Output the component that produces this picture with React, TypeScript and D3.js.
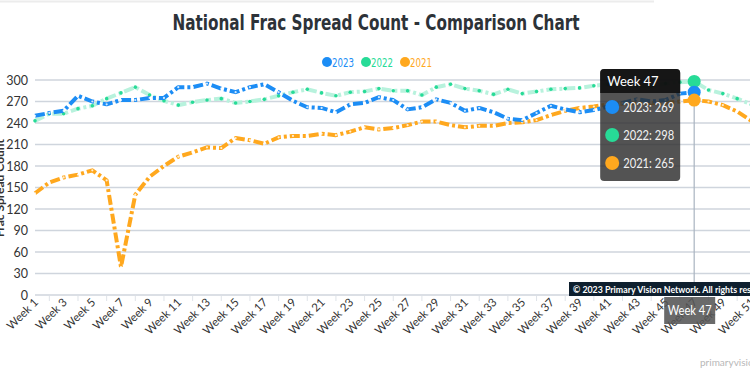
import React from "react";
import * as d3 from "d3";

const weeks: string[] = Array.from({ length: 52 }, (_, i) => `Week ${i + 1}`);

const series2023: number[] = [250, 254, 257, 278, 270, 266, 272, 272, 275, 275, 290, 290, 295, 288, 283, 290, 294, 283, 271, 262, 261, 255, 266, 268, 276, 272, 259, 262, 273, 268, 257, 261, 255, 246, 244, 254, 264, 259, 255, 258, 263, 268, 273, 270, 272, 281, 283];
const series2022: number[] = [243, 253, 253, 260, 264, 274, 282, 290, 279, 271, 265, 269, 272, 274, 268, 270, 273, 278, 283, 287, 282, 278, 283, 284, 288, 285, 285, 279, 290, 294, 288, 285, 280, 287, 281, 284, 287, 288, 289, 292, 294, 293, 292, 291, 295, 297, 298, 286, 281, 274, 266, 262];
const series2021: number[] = [142, 157, 164, 168, 174, 160, 39, 140, 165, 180, 193, 199, 206, 205, 219, 216, 211, 220, 222, 222, 225, 223, 228, 234, 231, 233, 237, 242, 242, 237, 234, 236, 236, 240, 241, 244, 251, 257, 261, 263, 266, 267, 268, 268, 268, 270, 272, 270, 265, 256, 243, 232];

const seriesNames: string[] = ["2023", "2022", "2021"];
const seriesColors: string[] = ["#1C8DF5", "#27DB97", "#FFA81E"];
const yTicks: number[] = [0, 30, 60, 90, 120, 150, 180, 210, 240, 270, 300];
const hoverWeek = "Week 47";
const tooltipValues: number[] = [269, 298, 265];

const condensed = "'Liberation Sans Narrow', 'DejaVu Sans Condensed', 'Roboto', sans-serif";
const body = "Lato, 'Open Sans', sans-serif";

export default function App() {
  const W = 750, H = 375;
  const x = d3.scalePoint<string>().domain(weeks).range([35, 35 + 51 * 14.33]);
  const y = d3.scaleLinear().domain([0, 300]).range([295, 80]);
  const line = d3
    .line<number>()
    .x((_, i) => x(weeks[i]) as number)
    .y((d) => y(d))
    .curve(d3.curveLinear);

  const all = [series2023, series2022, series2021];
  const hx = x(hoverWeek) as number;
  const hi = weeks.indexOf(hoverWeek);

  const tipRight = hx - 14;
  const tipW = 80;
  const tipL = tipRight - tipW;
  const tipT = y(300) - 11;
  const headH = 24;
  const rowH = 28;
  const tipH = headH + rowH * 3 + 4;

  return (
    <svg width={W} height={H} style={{ position: "absolute", left: 0, top: 0, background: "#fff" }}>
      <line x1={0} x2={654} y1={1.5} y2={1.5} stroke="#ececec" strokeWidth={2} />
      <text x={376} y={30} textAnchor="middle" fontFamily={condensed} fontWeight="bold" fontSize={21} fill="#2d3238" textLength={407} lengthAdjust="spacingAndGlyphs">
        National Frac Spread Count - Comparison Chart
      </text>

      {seriesNames.map((n, i) => {
        const lx = 327 + i * 39;
        return (
          <g key={n}>
            <circle cx={lx} cy={62} r={5} fill={seriesColors[i]} />
            <text x={lx + 5} y={66.5} fontFamily={condensed} fontSize={13} fill={seriesColors[i]} textLength={22} lengthAdjust="spacingAndGlyphs">
              {n}
            </text>
          </g>
        );
      })}

      <text transform={`translate(4,188) rotate(-90)`} textAnchor="middle" fontFamily={body} fontWeight="bold" fontSize={12} fill="#333">
        Frac Spread Count
      </text>

      {yTicks.map((t) => (
        <g key={t}>
          <line x1={35} x2={W} y1={y(t)} y2={y(t)} stroke="#cfd5dd" strokeWidth={1.3} />
          <text x={28} y={y(t) + 4.5} textAnchor="end" fontFamily={body} fontSize={12.5} fill="#333">
            {t}
          </text>
        </g>
      ))}

      {weeks.map((w, i) => {
        const px = x(w) as number;
        return (
          <g key={w}>
            {i % 2 === 1 && <line x1={px} x2={px} y1={296} y2={301} stroke="#dfe3e8" strokeWidth={1} />}
            {i % 2 === 0 && (
              <text transform={`translate(${px + 4},303) rotate(-45)`} textAnchor="end" fontFamily={body} fontSize={11.5} fill="#333">
                {w}
              </text>
            )}
          </g>
        );
      })}

      <path d={line(series2022) || ""} fill="none" stroke="#B8F2DD" strokeWidth={4} strokeDasharray="10,3,3,3" />
      {series2022.map((v, i) => (
        <circle key={"g" + i} cx={x(weeks[i]) as number} cy={y(v)} r={1.8} fill={seriesColors[1]} />
      ))}
      <path d={line(series2021) || ""} fill="none" stroke={seriesColors[2]} strokeWidth={4} strokeDasharray="10,3,3,3" strokeLinejoin="round" />
      {series2021.map((v, i) => (
        <circle key={"o" + i} cx={x(weeks[i]) as number} cy={y(v)} r={1.1} fill="#fff" opacity={0.8} />
      ))}
      <path d={line(series2023) || ""} fill="none" stroke={seriesColors[0]} strokeWidth={4} strokeDasharray="10,3,3,3" strokeLinejoin="round" />
      {series2023.map((v, i) => (
        <circle key={"b" + i} cx={x(weeks[i]) as number} cy={y(v)} r={1.1} fill="#fff" opacity={0.8} />
      ))}

      <line x1={hx} x2={hx} y1={y(all[1][hi]) + 6} y2={295} stroke="#a9b4c0" strokeWidth={1.2} />
      {[1, 0, 2].map((s) => (
        <circle key={"h" + s} cx={hx} cy={y(all[s][hi])} r={6.5} fill={seriesColors[s]} />
      ))}

      <rect x={569} y={282} width={W - 569} height={14} fill="#0e1f2e" />
      <text x={573} y={292.5} fontFamily={body} fontWeight="bold" fontSize={8.8} fill="#fff">
        © 2023 Primary Vision Network. All rights reserved
      </text>

      <g>
        <rect x={tipL} y={tipT} width={tipW} height={tipH} rx={4} fill="rgba(45,45,45,0.82)" />
        <path
          d={`M${tipL},${tipT + headH} V${tipT + 4} Q${tipL},${tipT} ${tipL + 4},${tipT} H${tipRight - 4} Q${tipRight},${tipT} ${tipRight},${tipT + 4} V${tipT + headH} Z`}
          fill="rgba(12,12,12,0.85)"
        />
        <text x={tipL + 7} y={tipT + 16.5} fontFamily={body} fontSize={13} fill="#fff">
          {hoverWeek}
        </text>
        {seriesNames.map((n, i) => (
          <g key={"t" + n}>
            <circle cx={tipL + 12} cy={tipT + headH + 14 + i * rowH} r={7} fill={seriesColors[i]} />
            <text x={tipL + 23} y={tipT + headH + 18.5 + i * rowH} fontFamily={body} fontSize={13} fill="#f2f2f2" textLength={51} lengthAdjust="spacingAndGlyphs">
              {`${n}: ${tooltipValues[i]}`}
            </text>
          </g>
        ))}
      </g>

      <rect x={hx - 30} y={297} width={51} height={27} fill="rgba(85,85,85,0.88)" />
      <text x={hx - 4.5} y={315} textAnchor="middle" fontFamily={body} fontSize={12.5} fill="#fff" textLength={44} lengthAdjust="spacingAndGlyphs">
        {hoverWeek}
      </text>

      <text x={700} y={366} fontFamily={body} fontSize={10} fill="#b8b8b8">
        primaryvision.com
      </text>
    </svg>
  );
}
